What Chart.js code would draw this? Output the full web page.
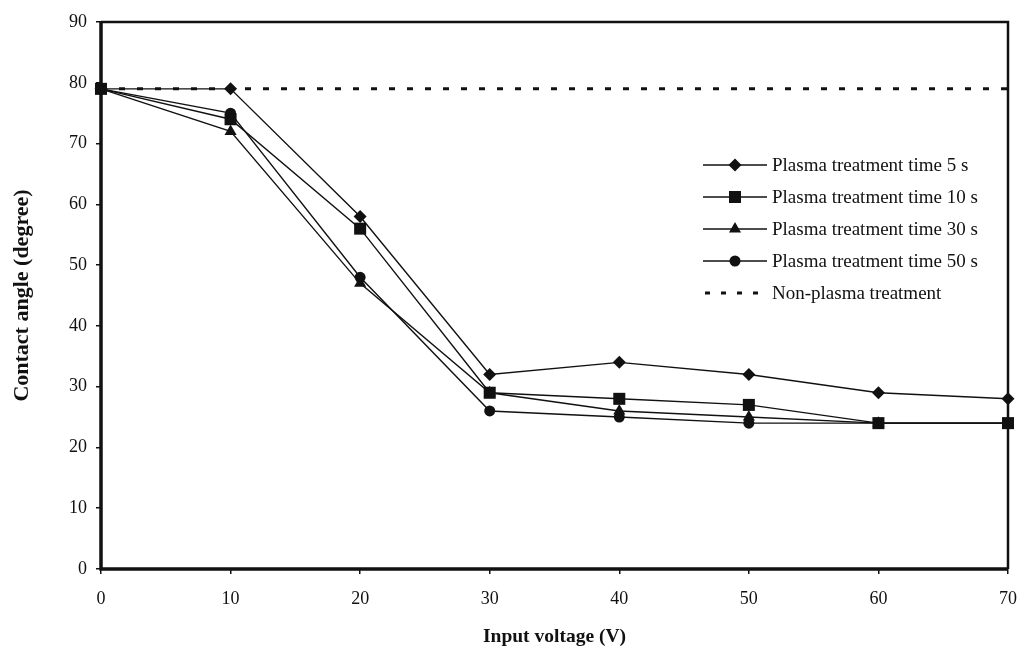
<!DOCTYPE html>
<html>
<head>
<meta charset="utf-8">
<title>Contact angle vs input voltage</title>
<script src="https://cdn.jsdelivr.net/npm/chart.js@4.4.1/dist/chart.umd.min.js"></script>
<style>
    html, body { margin: 0; padding: 0; background: #fff; }
    #wrap { width: 1021px; height: 656px; }
</style>
</head>
<body>
<div id="wrap"><canvas id="contact-chart" width="1021" height="656"></canvas></div>
<script>
    "use strict";

    // Data
    var voltages = [0, 10, 20, 30, 40, 50, 60, 70];
    var time5s = [79, 79, 58, 32, 34, 32, 29, 28];
    var time10s = [79, 74, 56, 29, 28, 27, 24, 24];
    var time30s = [79, 72, 47, 29, 26, 25, 24, 24];
    var time50s = [79, 75, 48, 26, 25, 24, 24, 24];
    var nonPlasma = [79, 79];
    var nonPlasmaX = [0, 70];
    var yTicks = [0, 10, 20, 30, 40, 50, 60, 70, 80, 90];

    var serif = "'Liberation Serif', 'Times New Roman', serif";
    var ink = "#111";

    function pairs(xs, ys) {
        return xs.map(function (x, i) { return {x: x, y: ys[i]}; });
    }

    function series(label, ys, style, radius) {
        return {
            label: label,
            data: pairs(voltages, ys),
            borderColor: ink,
            backgroundColor: ink,
            borderWidth: 1.4,
            pointStyle: style,
            pointRadius: radius,
            pointBorderWidth: 0,
            pointBackgroundColor: ink,
            tension: 0,
            clip: false
        };
    }

    // Frame round the plot area (thick left and bottom)
    var framePlugin = {
        id: "frame",
        afterDraw: function (chart) {
            var a = chart.chartArea, ctx = chart.ctx;
            ctx.save();
            ctx.strokeStyle = ink;
            ctx.lineWidth = 2.5;
            ctx.beginPath();
            ctx.moveTo(a.left, a.top);
            ctx.lineTo(a.right, a.top);
            ctx.lineTo(a.right, a.bottom);
            ctx.stroke();
            ctx.lineWidth = 3.5;
            ctx.beginPath();
            ctx.moveTo(a.left, a.top);
            ctx.lineTo(a.left, a.bottom);
            ctx.lineTo(a.right, a.bottom);
            ctx.stroke();
            ctx.restore();
        }
    };

    // Legend with line + marker samples, as in the original figure
    var legendPlugin = {
        id: "lineLegend",
        afterDraw: function (chart) {
            var ctx = chart.ctx;
            var x0 = 703, x1 = 767, y0 = 165, step = 32;
            ctx.save();
            ctx.font = "19px " + serif;
            ctx.textBaseline = "middle";
            chart.data.datasets.forEach(function (ds, i) {
                var y = y0 + i * step;
                ctx.strokeStyle = ink;
                ctx.fillStyle = ink;
                ctx.lineWidth = ds.borderDash ? ds.borderWidth : 1.4;
                ctx.setLineDash(ds.borderDash ? [5, 11] : []);
                ctx.beginPath();
                ctx.moveTo(ds.borderDash ? x0 + 2 : x0, y);
                ctx.lineTo(x1, y);
                ctx.stroke();
                ctx.setLineDash([]);
                if (ds.pointRadius > 0) {
                    Chart.helpers.drawPoint(ctx, {
                        pointStyle: ds.pointStyle,
                        radius: ds.pointRadius,
                        borderWidth: 0,
                        rotation: 0
                    }, (x0 + x1) / 2, y);
                }
                ctx.fillStyle = ink;
                ctx.fillText(ds.label, x1 + 5, y + 1);
            });
            ctx.restore();
        }
    };

    var ctx = document.getElementById("contact-chart").getContext("2d");
    var contactChart = new Chart(ctx, {
        type: "line",
        data: {
            datasets: [
                series("Plasma treatment time 5 s", time5s, "rectRot", 6.5),
                series("Plasma treatment time 10 s", time10s, "rect", 8.5),
                series("Plasma treatment time 30 s", time30s, "triangle", 7),
                series("Plasma treatment time 50 s", time50s, "circle", 5.5),
                {
                    label: "Non-plasma treatment",
                    data: pairs(nonPlasmaX, nonPlasma),
                    borderColor: ink,
                    borderWidth: 3,
                    borderDash: [6, 12],
                    pointRadius: 0,
                    tension: 0,
                    clip: false
                }
            ]
        },
        options: {
            responsive: false,
            animation: false,
            layout: { padding: { top: 22, right: 13, left: 0, bottom: 0 } },
            plugins: {
                legend: { display: false },
                tooltip: { enabled: false }
            },
            scales: {
                x: {
                    type: "linear",
                    min: 0,
                    max: 70,
                    afterFit: function (scale) {
                        scale.height = 87;
                        scale.paddingRight = 0;
                        scale.paddingLeft = 0;
                    },
                    grid: { drawOnChartArea: false, drawTicks: true, tickLength: 5, color: ink, lineWidth: 1.5 },
                    border: { display: false },
                    ticks: {
                        stepSize: 10,
                        padding: 14,
                        color: ink,
                        maxRotation: 0,
                        font: { family: serif, size: 18 }
                    },
                    title: {
                        display: true,
                        text: "Input voltage (V)",
                        color: ink,
                        padding: { top: 0, bottom: 7 },
                        font: { family: serif, size: 19.5, weight: "bold" }
                    }
                },
                y: {
                    min: 0,
                    max: 90,
                    afterFit: function (scale) {
                        scale.width = 101;
                        scale.paddingTop = 0;
                        scale.paddingBottom = 0;
                    },
                    afterBuildTicks: function (scale) {
                        scale.ticks = yTicks.map(function (v) { return {value: v}; });
                    },
                    grid: { drawOnChartArea: false, drawTicks: true, tickLength: 5, color: ink, lineWidth: 1.5 },
                    border: { display: false },
                    ticks: {
                        padding: 9,
                        color: ink,
                        font: { family: serif, size: 18 }
                    },
                    title: {
                        display: true,
                        text: "Contact angle (degree)",
                        color: ink,
                        padding: { top: 9, bottom: 0 },
                        font: { family: serif, size: 22, weight: "bold" }
                    }
                }
            }
        },
        plugins: [framePlugin, legendPlugin]
    });
</script>
</body>
</html>
